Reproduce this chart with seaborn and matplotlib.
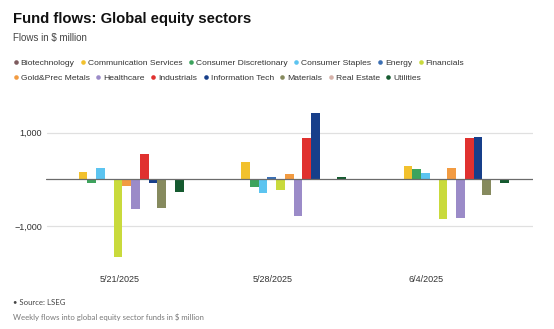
import matplotlib
matplotlib.use("Agg")
import matplotlib.pyplot as plt
from matplotlib.lines import Line2D
import seaborn as sns
import pandas as pd

weeks = ["5/21/2025", "5/28/2025", "6/4/2025"]
sectors = ["Biotechnology", "Communication Services", "Consumer Discretionary",
           "Consumer Staples", "Energy", "Financials", "Gold&Prec Metals",
           "Healthcare", "Industrials", "Information Tech", "Materials",
           "Real Estate", "Utilities"]
colors = ["#7d5b5e", "#f2c12e", "#3da35d", "#5cc4f0", "#3b6fb3", "#c9da3c",
          "#f29b41", "#9b8bc8", "#e0312f", "#173f8a", "#868a5e", "#d6b2aa",
          "#155a2f"]

# Weekly flows, $ million, one list per sector (5/21, 5/28, 6/4)
biotechnology = [5, -8, -15]
communication_services = [163, 371, 279]
consumer_discretionary = [-70, -165, 227]
consumer_staples = [250, -294, 141]
energy = [3, 56, 8]
financials = [-1672, -229, -845]
gold_prec_metals = [-137, 120, 249]
healthcare = [-643, -780, -836]
industrials = [542, 885, 879]
information_tech = [-79, 1421, 907]
materials = [-615, 3, -330]
real_estate = [-4, 3, 15]
utilities = [-279, 43, -86]

series = [biotechnology, communication_services, consumer_discretionary,
          consumer_staples, energy, financials, gold_prec_metals, healthcare,
          industrials, information_tech, materials, real_estate, utilities]

rows = []
for name, vals in zip(sectors, series):
    for wk, v in zip(weeks, vals):
        rows.append({"week": wk, "sector": name, "flow": v})
df = pd.DataFrame(rows)

sns.set_style("white")
plt.rcParams["font.family"] = ["Liberation Sans", "DejaVu Sans"]

W, H = 554, 329
fig = plt.figure(figsize=(W / 100, H / 100), dpi=100)

def fx(px):
    return px / W

def fy(py):
    return 1 - py / H

ax_left, ax_right, ax_top, ax_bot = 45.5, 533, 95, 265
ax = fig.add_axes([fx(ax_left), fy(ax_bot), fx(ax_right - ax_left),
                   (ax_bot - ax_top) / H])

palette = dict(zip(sectors, colors))
sns.barplot(data=df, x="week", y="flow", hue="sector", order=weeks,
            hue_order=sectors, palette=palette, width=0.70, gap=0,
            saturation=1, legend=False, ax=ax, errorbar=None, linewidth=0)

ax.set_xlim(-0.5, 2.5)
ax.set_ylim(-1837, 1807)
for s in ax.spines.values():
    s.set_visible(False)

for yv in (-1000, 1000):
    ax.axhline(yv, color="#e0e0e0", lw=0.9, zorder=0, xmin=0.004)
ax.axhline(0, color="#6b6b6b", lw=0.9, zorder=3)

ax.set_yticks([-1000, 1000], ["\u22121,000", "1,000"])
ax.set_xticks([-0.045, 0.9, 1.84], weeks)
ax.tick_params(axis="both", length=0, labelsize=6.5, colors="#333333")
ax.tick_params(axis="y", pad=2.5)
ax.tick_params(axis="x", pad=7)
ax.set_xlabel("")
ax.set_ylabel("")

# Header
fig.text(fx(13), fy(22.5), "Fund flows: Global equity sectors",
         fontsize=10.7, fontweight="bold", color="#111111", va="baseline")
fig.text(fx(13), fy(41.5), "Flows in $ million", fontsize=7,
         color="#444444", va="baseline")

# Legend in two flowing rows
def legend_row(names, y_px):
    handles = [Line2D([0], [0], marker="o", linestyle="", markersize=3.3,
                      markerfacecolor=palette[n], markeredgewidth=0)
               for n in names]
    leg = fig.legend(handles, names, loc="center left",
                     bbox_to_anchor=(fx(13.5), fy(y_px)), ncol=len(names),
                     frameon=False, fontsize=6.1, handlelength=0.5,
                     handletextpad=0.35, columnspacing=0.75,
                     borderpad=0, borderaxespad=0, labelcolor="#333333")
    return leg

legend_row(sectors[:6], 63.3)
legend_row(sectors[6:], 78)

# Footer
fig.text(fx(13), fy(302.7), "\u2022 Source: LSEG", fontsize=5.6,
         color="#444444", va="center", family=["Lato", "DejaVu Sans"])
fig.text(fx(13), fy(317.3),
         "Weekly flows into global equity sector funds in $ million",
         fontsize=5.6, color="#777777", va="center",
         family=["Lato", "DejaVu Sans"])

fig.savefig("out.png", dpi=100)
